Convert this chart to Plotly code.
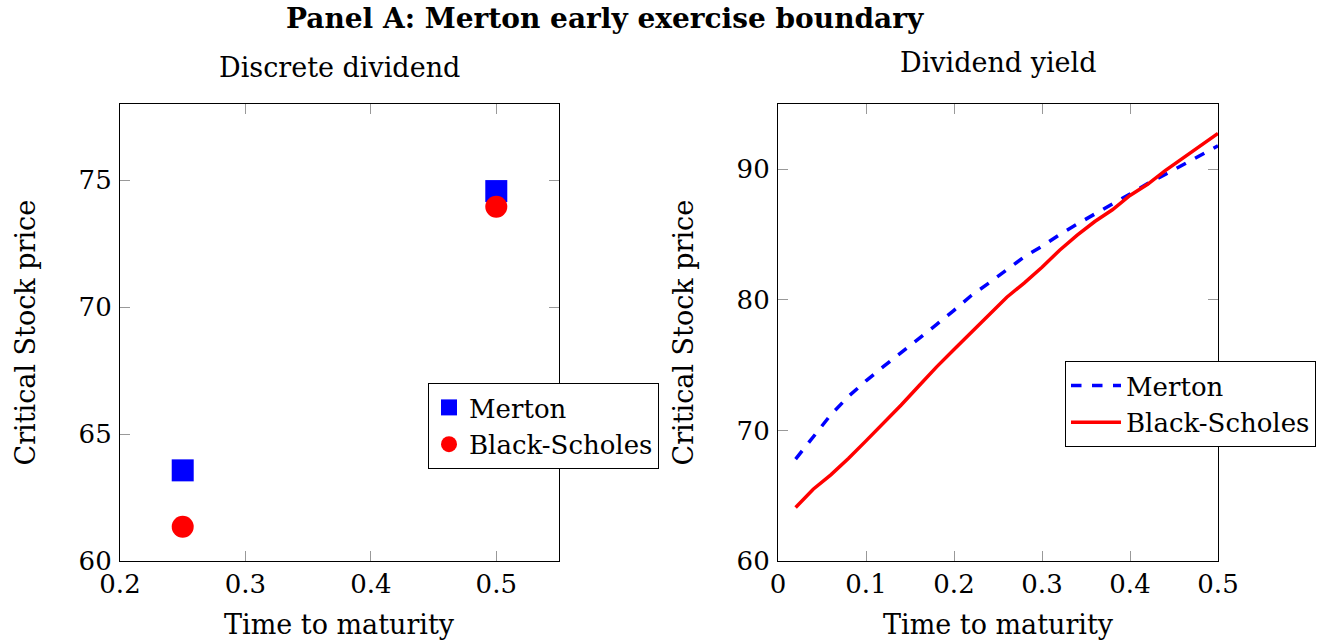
import plotly.graph_objects as go

# Left panel: discrete dividend
disc_t = [0.25, 0.5]
disc_merton = [63.57, 74.57]
disc_bs = [61.35, 73.95]

# Right panel: dividend yield
yield_t = [0.02, 0.04, 0.06, 0.08, 0.10, 0.12, 0.14, 0.16, 0.18, 0.20, 0.22, 0.24, 0.26,
           0.28, 0.30, 0.32, 0.34, 0.36, 0.38, 0.40, 0.42, 0.44, 0.46, 0.48, 0.50]
yield_merton = [67.8, 69.5, 71.2, 72.6, 73.8, 74.9, 75.95, 77.0, 78.1, 79.2, 80.35, 81.3, 82.3,
                83.3, 84.1, 85.0, 85.8, 86.6, 87.35, 88.1, 88.9, 89.6, 90.35, 91.1, 91.8]
yield_bs = [64.1, 65.5, 66.6, 67.85, 69.2, 70.55, 71.95, 73.4, 74.85, 76.2, 77.55, 78.9, 80.2,
            81.3, 82.5, 83.8, 84.95, 86.0, 86.9, 88.0, 88.85, 89.9, 90.85, 91.8, 92.75]

left_xticks = [0.2, 0.3, 0.4, 0.5]
left_yticks = [60, 65, 70, 75]
right_xticks = [0, 0.1, 0.2, 0.3, 0.4, 0.5]
right_yticks = [60, 70, 80, 90]

FONT = "DejaVu Serif"
FS_TEXT = 27
FS_TICK = 26
FS_LEG = 26
FS_TITLE = 28
W, H = 1338, 644

def px_x(p):
    return p / W

def px_y(p):
    return 1 - p / H

fig = go.Figure()

fig.add_trace(go.Scatter(x=disc_t, y=disc_merton, mode="markers", name="Merton",
                         marker=dict(symbol="square", size=22, color="#0000ff"),
                         xaxis="x", yaxis="y", legend="legend"))
fig.add_trace(go.Scatter(x=disc_t, y=disc_bs, mode="markers", name="Black-Scholes",
                         marker=dict(symbol="circle", size=22, color="#ff0000"),
                         xaxis="x", yaxis="y", legend="legend"))
fig.add_trace(go.Scatter(x=yield_t, y=yield_merton, mode="lines", name="Merton",
                         line=dict(color="#0000ff", width=3.5, dash="dash"),
                         xaxis="x2", yaxis="y2", legend="legend2"))
fig.add_trace(go.Scatter(x=yield_t, y=yield_bs, mode="lines", name="Black-Scholes",
                         line=dict(color="#ff0000", width=3.5),
                         xaxis="x2", yaxis="y2", legend="legend2"))

axis_common = dict(showline=True, mirror="allticks", linecolor="black", linewidth=1.2,
                   ticks="inside", ticklen=10, tickcolor="#999999", tickwidth=1.2,
                   showgrid=False, zeroline=False, automargin=False,
                   tickfont=dict(family=FONT, size=FS_TICK, color="black"))

ydom = [px_y(561), px_y(104)]

fig.update_layout(
    width=W, height=H,
    margin=dict(l=0, r=0, t=0, b=0, pad=0, autoexpand=False),
    paper_bgcolor="white", plot_bgcolor="white",
    font=dict(family=FONT, color="black"),
    xaxis=dict(domain=[px_x(120), px_x(559)], range=[0.2, 0.55], tickvals=left_xticks,
               ticktext=["0.2", "0.3", "0.4", "0.5"], anchor="y", **axis_common),
    yaxis=dict(domain=ydom, range=[60, 78], tickvals=left_yticks, anchor="x",
               ticklabelstandoff=2, **axis_common),
    xaxis2=dict(domain=[px_x(778), px_x(1218)], range=[0, 0.5], tickvals=right_xticks,
                ticktext=["0", "0.1", "0.2", "0.3", "0.4", "0.5"], anchor="y2", **axis_common),
    yaxis2=dict(domain=ydom, range=[60, 95], tickvals=right_yticks, anchor="x2",
                ticklabelstandoff=2, **axis_common),
    legend=dict(x=px_x(428), y=px_y(383), xanchor="left", yanchor="top",
                bordercolor="black", borderwidth=1, bgcolor="white",
                font=dict(family=FONT, size=FS_LEG, color="black"),
                itemwidth=30, tracegroupgap=0),
    legend2=dict(x=px_x(1065), y=px_y(361), xanchor="left", yanchor="top",
                 bordercolor="black", borderwidth=1, bgcolor="white",
                 font=dict(family=FONT, size=FS_LEG, color="black"),
                 itemwidth=50, tracegroupgap=0),
    showlegend=True,
)

annots = [
    dict(text="<b>Panel A: Merton early exercise boundary</b>", x=px_x(605), y=px_y(18), size=FS_TITLE),
    dict(text="Discrete dividend", x=px_x(339.5), y=px_y(68), size=FS_TEXT),
    dict(text="Dividend yield", x=px_x(998), y=px_y(62), size=FS_TEXT),
    dict(text="Time to maturity", x=px_x(339.5), y=px_y(624), size=FS_TEXT),
    dict(text="Time to maturity", x=px_x(998), y=px_y(624), size=FS_TEXT),
]
for a in annots:
    fig.add_annotation(text=a["text"], x=a["x"], y=a["y"], xref="paper", yref="paper",
                       xanchor="center", yanchor="middle", showarrow=False,
                       font=dict(family=FONT, size=a["size"], color="black"))
for xc in [25, 683]:
    fig.add_annotation(text="Critical Stock price", x=px_x(xc), y=px_y(332.5), xref="paper",
                       yref="paper", xanchor="center", yanchor="middle", showarrow=False,
                       textangle=-90, font=dict(family=FONT, size=FS_TEXT, color="black"))

fig.write_html("out.html")
